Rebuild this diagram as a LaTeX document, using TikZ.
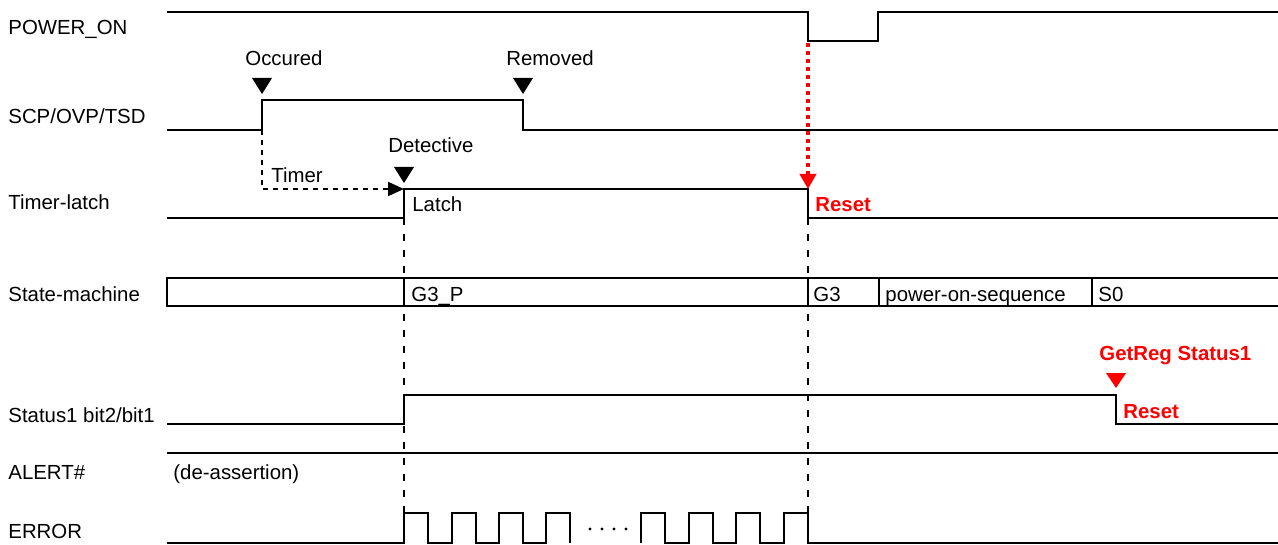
\documentclass[tikz,border=0pt]{standalone}
\usepackage{fontspec}
\setmainfont{Liberation Sans}
\usetikzlibrary{arrows.meta}
\usetikzlibrary{calc}

\begin{document}
\begin{tikzpicture}[x=0.5pt,y=-0.5pt,
  wave/.style={line width=1pt},
  txt/.style={anchor=base west, inner sep=0pt, font=\fontsize{10.2}{12}\selectfont},
  redtxt/.style={txt, text=red, font=\fontsize{10.2}{12}\selectfont\bfseries},
  guide/.style={line width=0.9pt, dash pattern=on 3.5pt off 4.5pt},
  timerline/.style={line width=0.9pt, dash pattern=on 2.5pt off 2.5pt}]
\useasboundingbox (0,0) rectangle (1278,545);

% signal names
\path
(8,35) node[txt] (power) {POWER\_ON}
(8,124) node[txt] (scp) {SCP/OVP/TSD}
(8,210) node[txt] (tlatch) {Timer-latch}
(8,301) node[txt] (state) {State-machine}
(8,422) node[txt] (status) {Status1 bit2/bit1}
(8,479) node[txt] (alert) {ALERT\#}
(8,538) node[txt] (error) {ERROR};

% waveforms
\draw[wave] (167,12) -- (808,12) -- (808,41) -- (878,41) -- (878,12) -- (1278,12);
\draw[wave] (167,130) -- (262,130) -- (262,100) -- (523,100) -- (523,130) -- (1278,130);
\draw[wave] (167,218) -- (404,218) -- (404,189) -- (808,189) -- (808,218) -- (1278,218);
\draw[wave] (1278,278) -- (167,278) -- (167,306) -- (1278,306);
\foreach \x in {404,808,879,1092}
   \draw[wave] (\x,278) -- (\x,306);
\draw[wave] (167,424) -- (404,424) -- (404,395) -- (1116,395) -- (1116,424) -- (1278,424);
\draw[wave] (167,453) -- (1278,453);
\draw[wave] (167,543) \foreach \x in {404,452,499,546} {-- (\x,543) -- (\x,513) -- (\x+24,513) -- (\x+24,543)};
\draw[wave] (641,543) \foreach \x in {641,689,736,784} {-- (\x,543) -- (\x,513) -- (\x+24,513) -- (\x+24,543)} -- (1278,543);
\foreach \x in {590,602,614,626}
   \fill (\x,529) circle (1.6);

% guides
\draw[guide] (404,218) -- (404,513);
\draw[guide] (808,218) -- (808,513);

% markers
\fill (262,94) -- ++(-10,-16) -- ++(20,0) -- cycle;
\fill (523,94) -- ++(-10,-16) -- ++(20,0) -- cycle;
\fill (404,183) -- ++(-10,-16) -- ++(20,0) -- cycle;
\fill[red] (1116,388) -- ++(-10,-15) -- ++(20,0) -- cycle;

% arrows
\coordinate (occ) at (262,130);
\coordinate (det) at (404,189);
\coordinate (pwrlow) at (808,43);
\coordinate (rst) at (808,189);
\draw[timerline, -{Triangle[length=8pt,width=7pt]}] (occ) |- (det);
\draw[red, line width=2pt, dash pattern=on 2pt off 2pt, -{Triangle[length=7.5pt,width=8pt]}] (pwrlow) -- (rst);

% annotations
\path
(245,66) node[txt] (occured) {Occured}
(506,66) node[txt] (removed) {Removed}
(388,153) node[txt] (detective) {Detective}
(271,183) node[txt] (timer) {Timer}
(412,212) node[txt] (latch) {Latch}
(815,212) node[redtxt] (reset1) {Reset}
(411,301) node[txt] (g3p) {G3\_P}
(813,301) node[txt] (g3) {G3}
(885,301) node[txt] (pwrseq) {power-on-sequence}
(1098,301) node[txt] (s0) {S0}
(1099,360) node[redtxt] (getreg) {GetReg Status1}
(1123,418) node[redtxt] (reset2) {Reset}
(173,479) node[txt] (deassert) {(de-assertion)};

\end{tikzpicture}
\end{document}
